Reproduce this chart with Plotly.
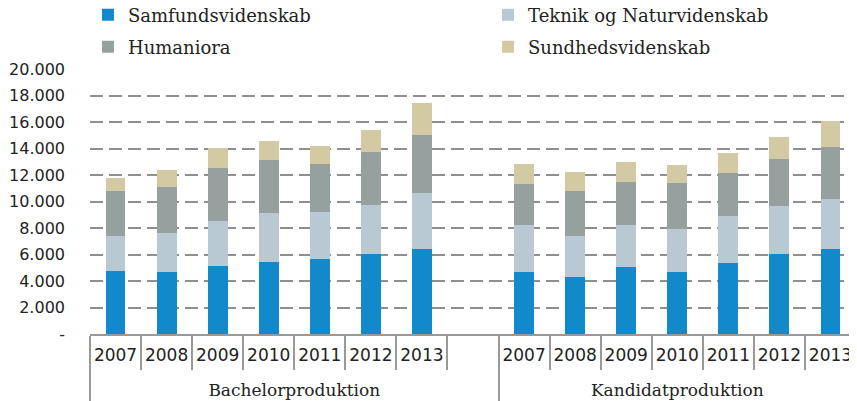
import plotly.graph_objects as go

# ---- data ----
years = ["2007", "2008", "2009", "2010", "2011", "2012", "2013"]
groups = ["Bachelorproduktion", "Kandidatproduktion"]
series_names = ["Samfundsvidenskab", "Teknik og Naturvidenskab", "Humaniora", "Sundhedsvidenskab"]

bachelor_samf = [4730, 4680, 5130, 5460, 5660, 6040, 6420]
bachelor_tek = [2690, 2940, 3420, 3670, 3550, 3700, 4220]
bachelor_hum = [3370, 3500, 4000, 4020, 3620, 3970, 4380]
bachelor_sund = [960, 1260, 1490, 1420, 1380, 1660, 2390]

kandidat_samf = [4680, 4330, 5060, 4680, 5360, 6040, 6420]
kandidat_tek = [3520, 3090, 3170, 3240, 3550, 3640, 3770]
kandidat_hum = [3140, 3370, 3240, 3450, 3240, 3530, 3950]
kandidat_sund = [1470, 1410, 1510, 1360, 1510, 1640, 1910]

y_tickvals = [0, 2000, 4000, 6000, 8000, 10000, 12000, 14000, 16000, 18000, 20000]
y_ticktext = ["-", "2.000", "4.000", "6.000", "8.000", "10.000", "12.000",
              "14.000", "16.000", "18.000", "20.000"]

colors = ["#1289CB", "#B8C9D3", "#96A09F", "#D3CAA3"]

# ---- build multicategory x labels ----
serif = "DejaVu Serif"
year_lbl = [f'<span style="font-size:17px">{y}</span>' for y in years]
gap_lbl = '<span style="font-size:17px"> </span>'
group_lbl = [f'<br><span style="font-family:{serif};font-size:17px">{g}</span>' for g in groups]
x_outer = [group_lbl[0]] * 8 + [group_lbl[1]] * 7
x_inner = year_lbl + [gap_lbl] + year_lbl

series_vals = [
    bachelor_samf + [None] + kandidat_samf,
    bachelor_tek + [None] + kandidat_tek,
    bachelor_hum + [None] + kandidat_hum,
    bachelor_sund + [None] + kandidat_sund,
]
legend_ids = ["legend", "legend2", "legend3", "legend4"]
# legend placement (container fractions): (x, y)
legend_pos = [(0.0942, 0.9822), (0.5654, 0.9822), (0.0942, 0.9005), (0.5654, 0.9005)]

fig = go.Figure()
for name, vals, col, lg in zip(series_names, series_vals, colors, legend_ids):
    fig.add_trace(go.Bar(
        x=[x_outer, x_inner], y=vals, name=name,
        marker=dict(color=col, line=dict(width=0)),
        legend=lg,
    ))

legends = {}
for lg, (lx, ly) in zip(legend_ids, legend_pos):
    legends[lg] = dict(
        orientation="h", xref="container", yref="container",
        x=lx, xanchor="left", y=ly, yanchor="middle",
        font=dict(family=serif, size=18, color="#222222"),
        bgcolor="rgba(0,0,0,0)", itemclick=False, itemdoubleclick=False,
    )

# the page body adds an 8px offset, so the figure is 8px smaller
fig.update_layout(
    width=849, height=393,
    margin=dict(l=82, r=1, t=61, b=67, autoexpand=False),
    barmode="stack", bargap=0.61,
    plot_bgcolor="white", paper_bgcolor="white",
    showlegend=True,
    **legends,
    xaxis=dict(
        type="multicategory", automargin=False,
        showline=True, linecolor="#999999", linewidth=2,
        ticks="outside", tickson="boundaries", ticklen=34,
        tickcolor="#999999", tickwidth=1.5,
        tickangle=0,
        ticklabelstandoff=7,
        showdividers=True, dividercolor="#999999", dividerwidth=1.5,
        tickfont=dict(family="DejaVu Sans", size=15, color="#222222"),
        showgrid=False,
    ),
    yaxis=dict(
        automargin=False,
        range=[0, 20000], tickvals=y_tickvals, ticktext=y_ticktext,
        showgrid=True, gridcolor="#8f8f8f", gridwidth=2, griddash="13px,6px",
        zeroline=False, showline=False, ticks="",
        ticklabelstandoff=24,
        tickfont=dict(family="DejaVu Sans", size=16, color="#222222"),
    ),
)

fig.write_html("out.html")
